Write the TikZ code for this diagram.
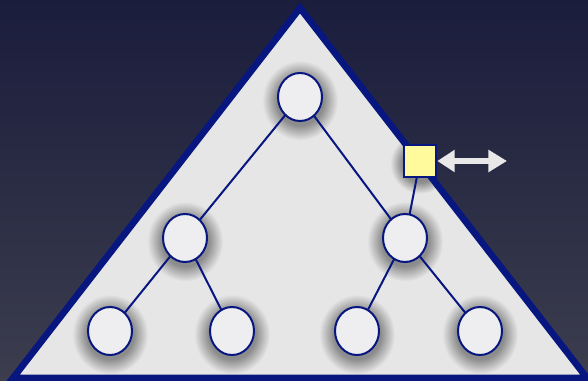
\documentclass[tikz,border=0pt]{standalone}
\usetikzlibrary{arrows.meta,shapes.geometric}
\definecolor{navy}{RGB}{8,22,128}
\definecolor{tri}{RGB}{230,230,230}
\definecolor{nodefill}{RGB}{238,238,240}
\definecolor{sqfill}{RGB}{255,250,155}
\definecolor{bgtop}{RGB}{26,29,60}
\definecolor{bgbot}{RGB}{60,61,78}
\definecolor{arrowc}{RGB}{232,232,232}
\definecolor{shd}{RGB}{140,140,140}
\pgfdeclareradialshading{nshadow}{\pgfpoint{0bp}{0bp}}{color(0bp)=(shd); color(15.5bp)=(shd); color(25bp)=(tri); color(50bp)=(tri)}
\begin{document}
\begin{tikzpicture}[x=0.75pt,y=-0.75pt,
  tnode/.style={ellipse, draw=navy, line width=1.5pt, fill=nodefill, inner sep=0pt,
    minimum width=33pt, minimum height=36pt},
  sqnode/.style={rectangle, draw=navy, line width=1.5pt, fill=sqfill, inner sep=0pt,
    minimum size=24.5pt},
  edge/.style={draw=navy, line width=1.5pt},
  shadowblob/.style={shading=nshadow}]
\useasboundingbox (0,0) rectangle (588,381);
\shade[top color=bgtop, bottom color=bgbot] (0,0) rectangle (588,381);
\coordinate (A) at (300,8);
\coordinate (L) at (13,378);
\coordinate (R) at (587,378);
\fill[tri] (A) -- (L) -- (R) -- cycle;
% node positions
\coordinate (p0) at (300,97);
\coordinate (p1) at (185,238);
\coordinate (p2) at (405,238);
\coordinate (p3) at (110,331);
\coordinate (p4) at (232,331);
\coordinate (p5) at (357,331);
\coordinate (p6) at (480,331);
\coordinate (ps) at (420,161);
% shadows
\begin{scope}
\clip (A) -- (L) -- (R) -- cycle;
\foreach \p in {p0,p1,p2,p3,p4,p5,p6}{
  \shade[shadowblob] ([yshift=-2.5pt]\p) ellipse [x radius=38, y radius=40];
}
\shade[shadowblob] ([yshift=-2pt]ps) ellipse [x radius=30, y radius=30];
\end{scope}
\draw[navy, line width=5pt, line join=miter] (A) -- (L) -- (R) -- cycle;
% edges
\draw[edge] (p0) -- (p1);
\draw[edge] (p0) -- (p2);
\draw[edge] (p1) -- (p3);
\draw[edge] (p1) -- (p4);
\draw[edge] (p2) -- (p5);
\draw[edge] (p2) -- (p6);
\draw[edge] (ps) -- (p2);
% nodes
\node[tnode] (n0) at (p0) {};
\node[tnode] (n1) at (p1) {};
\node[tnode] (n2) at (p2) {};
\node[tnode] (n3) at (p3) {};
\node[tnode] (n4) at (p4) {};
\node[tnode] (n5) at (p5) {};
\node[tnode] (n6) at (p6) {};
\node[sqnode] (sq) at (ps) {};
% arrow
\coordinate (ae) at (507,161);
\draw[arrowc, line width=4.5pt, {Triangle[length=13pt,width=16pt]}-{Triangle[length=14pt,width=16pt]}] (sq.east) -- (ae);
\end{tikzpicture}
\end{document}
